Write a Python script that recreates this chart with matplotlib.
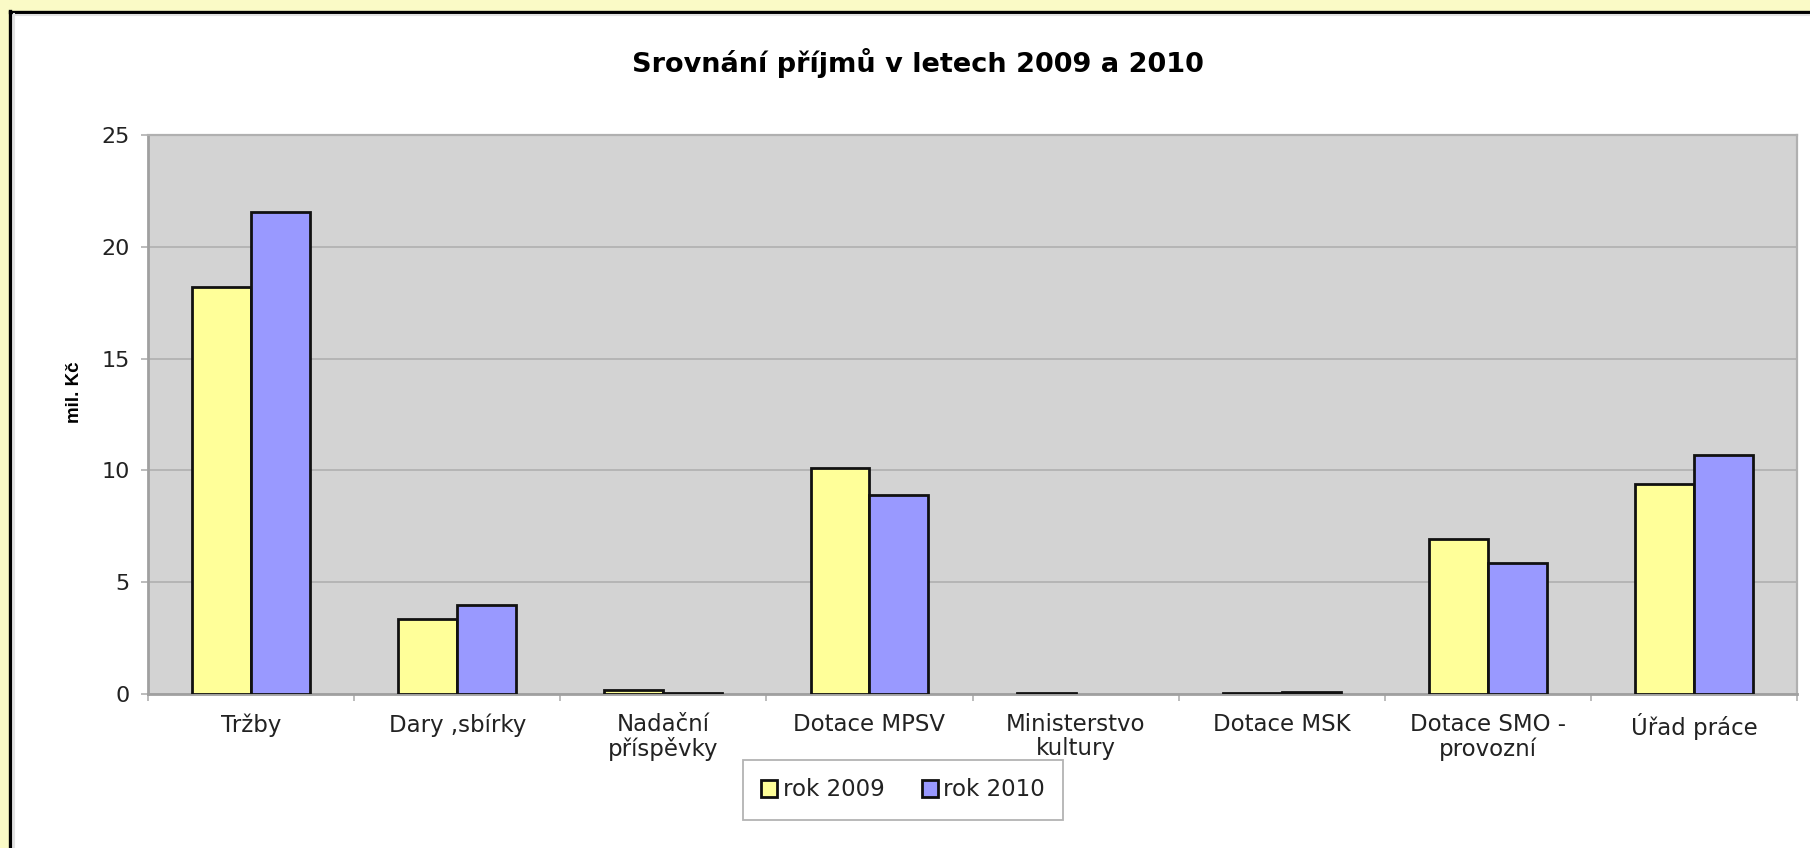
import numpy as np
import matplotlib
matplotlib.use("Agg")
import matplotlib.pyplot as plt
from matplotlib.patches import Rectangle
from matplotlib.lines import Line2D

plt.rcParams['font.family'] = ['DejaVu Sans']

categories = ["Tržby", "Dary ,sbírky", "Nadační\npříspěvky", "Dotace MPSV",
              "Ministerstvo\nkultury", "Dotace MSK", "Dotace SMO -\nprovozní", "Úřad práce"]
rok_2009 = [18.2, 3.36, 0.2, 10.12, 0.03, 0.03, 6.92, 9.4]
rok_2010 = [21.54, 3.98, 0.03, 8.88, 0.0, 0.1, 5.84, 10.69]
series_labels = ["rok 2009", "rok 2010"]
y_ticks = [0, 5, 10, 15, 20, 25]
title = "Srovnání příjmů v letech 2009 a 2010"
y_label = "mil. Kč"

W, H = 1810, 848
fig = plt.figure(figsize=(W / 100, H / 100), dpi=100)
fig.patch.set_facecolor('#FAFAC6')

# white panel with black frame (left + top)
fig.add_artist(Rectangle((11 / W, 0), 1 - 11 / W, 1 - 13 / H, transform=fig.transFigure,
                         facecolor='white', edgecolor='none', zorder=0))
fig.add_artist(Line2D([10 / W, 10 / W], [0, 1 - 11 / H], transform=fig.transFigure,
                      color='black', lw=2.4, zorder=1))
fig.add_artist(Line2D([10 / W, 1], [1 - 12 / H, 1 - 12 / H], transform=fig.transFigure,
                      color='black', lw=2.4, zorder=1))
fig.add_artist(Line2D([13.5 / W, 13.5 / W], [0, 1 - 14 / H], transform=fig.transFigure,
                      color='#E2E2E2', lw=1.5, zorder=1))
fig.add_artist(Line2D([13.5 / W, 1], [1 - 15 / H, 1 - 15 / H], transform=fig.transFigure,
                      color='#E2E2E2', lw=1.5, zorder=1))

left, right, top, bottom = 148, 1797, 135, 694
ax = fig.add_axes([left / W, 1 - bottom / H, (right - left) / W, (bottom - top) / H])
ax.set_facecolor('#D3D3D3')

x = np.arange(len(categories))
w = 0.2857
b1 = ax.bar(x - w / 2, rok_2009, w, color='#FFFF99', edgecolor='#111111', linewidth=2.0,
            label=series_labels[0], zorder=3)
b2 = ax.bar(x + w / 2, rok_2010, w, color='#9999FF', edgecolor='#111111', linewidth=2.0,
            label=series_labels[1], zorder=3)
for bars in (b1, b2):
    for r in bars:
        if r.get_height() == 0:
            r.set_linewidth(0)

ax.set_xlim(-0.5, len(categories) - 0.5)
ax.set_ylim(0, 25)
ax.set_yticks(y_ticks)
ax.yaxis.grid(True, color='#B2B2B2', lw=1.3, zorder=0)
ax.set_axisbelow(True)

for s in ['left', 'bottom']:
    ax.spines[s].set_color('#A0A0A0')
    ax.spines[s].set_linewidth(2.0)
for s in ['top', 'right']:
    ax.spines[s].set_color('#B0B0B0')
    ax.spines[s].set_linewidth(1.6)

ax.tick_params(axis='y', direction='out', length=5, width=1.2, color='#B0B0B0',
               labelsize=16, labelcolor='#222222', pad=8)
ax.set_xticks(x)
ax.set_xticklabels(categories, fontsize=16.5, color='#222222', linespacing=1.05)
ax.set_xticks(np.arange(-0.5, len(categories)), minor=True)
ax.tick_params(axis='x', which='major', length=0, pad=14)
ax.tick_params(axis='x', which='minor', direction='out', length=5, width=1.2, color='#B0B0B0')

ax.set_ylabel(y_label, fontsize=13.5, fontweight='bold',
              family=['Liberation Sans', 'DejaVu Sans'])
ax.yaxis.set_label_coords(-0.0394, 0.54)

fig.text(0.507, 1 - 63 / H, title, ha='center', va='center', fontsize=19.5,
         fontweight='bold', color='black')

leg = fig.legend(loc='center', bbox_to_anchor=(0.499, 1 - 790 / H), ncol=2, fontsize=16.5,
                 frameon=True, fancybox=False, edgecolor='#A0A0A0', handlelength=0.7,
                 handleheight=0.7, handletextpad=0.25, columnspacing=1.6, borderpad=0.8)
leg.get_frame().set_linewidth(1.3)
for t in leg.get_texts():
    t.set_color('#222222')

fig.savefig('out.png', dpi=100, facecolor=fig.get_facecolor())
